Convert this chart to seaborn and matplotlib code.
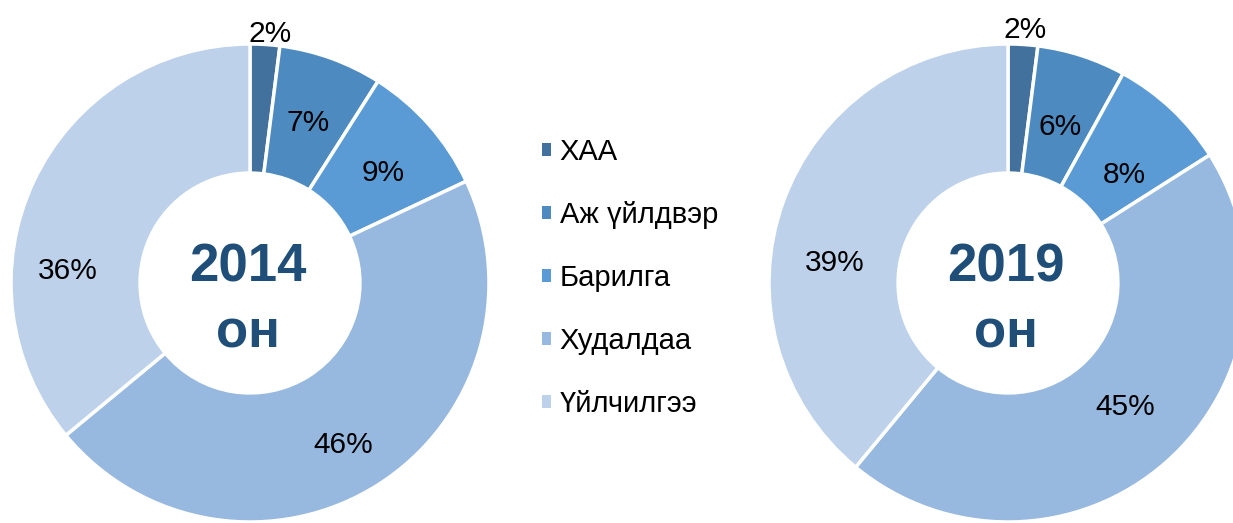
import numpy as np
import seaborn as sns
import matplotlib.pyplot as plt
from matplotlib.patches import Patch

# Data
sectors = ["ХАА", "Аж үйлдвэр", "Барилга", "Худалдаа", "Үйлчилгээ"]
share_2014 = [2, 7, 9, 46, 36]
share_2019 = [2, 6, 8, 45, 39]
years = ["2014", "2019"]
colors = ["#41719C", "#4D8AC0", "#5B9BD5", "#97B8DF", "#BDD1EA"]

# label positions (pixel space, y from top) for the percent texts
lbl_2014 = [(270, 34), (308, 123), (383, 173), (343, 445), (68, 271)]
lbl_2019 = [(1025, 30), (1060, 127), (1124, 175), (1125, 407), (835, 263)]

sns.set_theme(style="white")
plt.rcParams["font.family"] = ["Liberation Sans", "DejaVu Sans"]

W, H = 1233, 523
fig = plt.figure(figsize=(W / 100, H / 100), dpi=100)
ax = fig.add_axes([0, 0, 1, 1])

R = 239
centers = [(250, H - 283), (1008, H - 283)]
for vals, c, yr, lbls in zip([share_2014, share_2019], centers, years, [lbl_2014, lbl_2019]):
    ax.pie(vals, colors=colors, startangle=90, counterclock=False,
           center=c, radius=R, frame=True,
           wedgeprops=dict(width=R * 0.54, edgecolor="white", linewidth=2.5))
    for v, (lx, ly) in zip(vals, lbls):
        ax.text(lx, H - ly, f"{v}%", ha="center", va="center",
                fontsize=21.5, color="black")
    ax.text(c[0] - 2, c[1] + 16, yr, ha="center", va="center",
            fontsize=38, fontweight="bold", color="#1F4E79")
    ax.text(c[0] - 2, c[1] - 50, "он", ha="center", va="center",
            fontsize=38, fontweight="bold", color="#1F4E79")

ax.set_xlim(0, W)
ax.set_ylim(0, H)
ax.set_aspect("equal")
ax.axis("off")

handles = [Patch(facecolor=col, edgecolor="none") for col in colors]
fig.legend(handles, sectors, loc="center left",
           bbox_to_anchor=(516 / W, (H - 278) / H), frameon=False,
           fontsize=21, labelcolor="black", handlelength=0.3, handleheight=0.3,
           handletextpad=0.3, labelspacing=1.2)

fig.savefig("out.png", dpi=100)
